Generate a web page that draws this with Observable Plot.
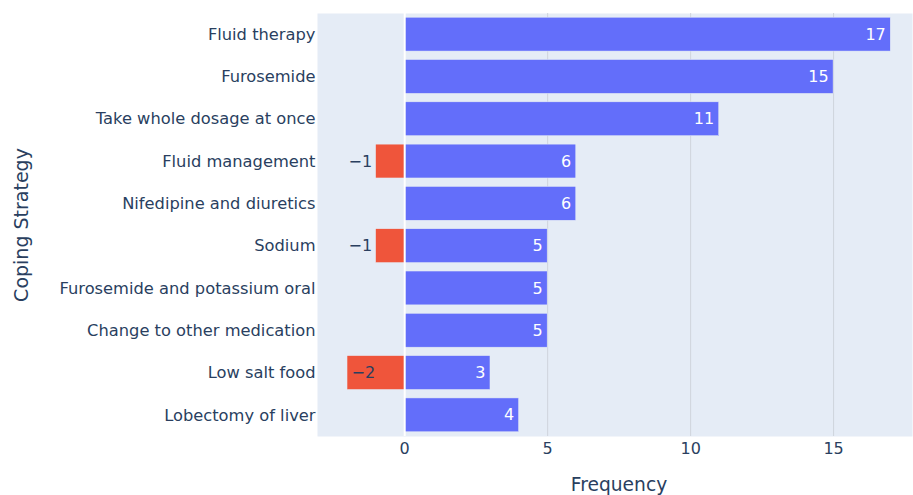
<!DOCTYPE html>
<html><head><meta charset="utf-8">
<script src="https://cdn.jsdelivr.net/npm/d3@7"></script>
<script src="https://cdn.jsdelivr.net/npm/@observablehq/plot@0.6"></script>
<style>body{margin:0;background:#fff}</style>
</head><body><div id="chart"></div>
<script>
const strategies = [
  "Fluid therapy",
  "Furosemide",
  "Take whole dosage at once",
  "Fluid management",
  "Nifedipine and diuretics",
  "Sodium",
  "Furosemide and potassium oral",
  "Change to other medication",
  "Low salt food",
  "Lobectomy of liver"
];
const positiveCounts = [17, 15, 11, 6, 6, 5, 5, 5, 3, 4];
const negativeCounts = [0, 0, 0, -1, 0, -1, 0, 0, -2, 0];
const xTicks = [0, 5, 10, 15];

const pos = strategies.map((s, i) => ({strategy: s, value: positiveCounts[i]}));
const neg = strategies.map((s, i) => ({strategy: s, value: negativeCounts[i]})).filter(d => d.value !== 0);
const fmt = v => v < 0 ? "\u2212" + Math.abs(v) : String(v);

const chart = Plot.plot({
  width: 913, height: 495,
  marginLeft: 317, marginRight: 1, marginTop: 13, marginBottom: 59,
  style: {fontFamily: "DejaVu Sans, sans-serif", fontSize: "16px", color: "#2a3f5f", background: "#fff"},
  x: {domain: [-3.05, 17.76]},
  y: {domain: strategies, paddingInner: 0.2, paddingOuter: 0.1, round: false},
  marks: [
    Plot.frame({fill: "#e5ecf6", stroke: null}),
    Plot.gridX(xTicks.filter(t => t !== 0), {stroke: "#cfd4dc", strokeOpacity: 1, strokeWidth: 1}),
    Plot.barX(pos, {y: "strategy", x1: 0, x2: "value", fill: "#636efa", stroke: "#e5ecf6", strokeWidth: 0.5}),
    Plot.barX(neg, {y: "strategy", x1: 0, x2: "value", fill: "#ef553b", stroke: "#e5ecf6", strokeWidth: 0.5}),
    Plot.ruleX([0], {stroke: "#fff", strokeWidth: 2}),
    Plot.text(pos, {y: "strategy", x: "value", text: d => fmt(d.value), textAnchor: "end", dx: -5, fill: "#fff", fontSize: 16}),
    Plot.text(neg.filter(d => d.value <= -2), {y: "strategy", x: "value", text: d => fmt(d.value), textAnchor: "start", dx: 4, fill: "#2a3f5f", fontSize: 16}),
    Plot.text(neg.filter(d => d.value > -2), {y: "strategy", x: "value", text: d => fmt(d.value), textAnchor: "end", dx: -4, fill: "#2a3f5f", fontSize: 16}),
    Plot.axisX(xTicks, {tickSize: 0, tickPadding: 6, label: null, fill: "#2a3f5f", fontSize: 16}),
    Plot.axisY({tickSize: 0, tickPadding: 2, label: null, fill: "#2a3f5f", fontSize: 16.3}),
    Plot.text(["Frequency"], {frameAnchor: "bottom", dy: 54, dx: 4, fill: "#2a3f5f", fontSize: 18.67}),
    Plot.text(["Coping Strategy"], {frameAnchor: "left", textAnchor: "middle", dx: -296, rotate: -90, fill: "#2a3f5f", fontSize: 19})
  ]
});
document.getElementById("chart").append(chart);
</script>
</body></html>
